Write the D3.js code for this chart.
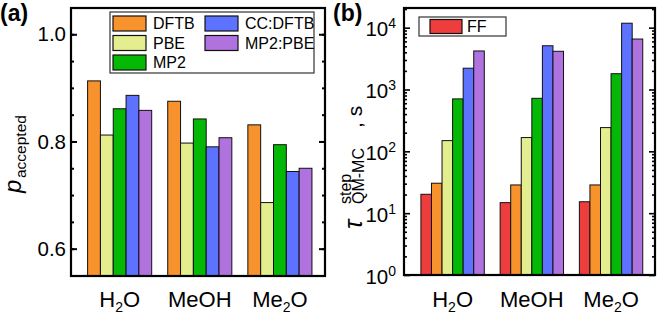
<!DOCTYPE html>
<html>
  <head>
    <style>
     body{ margin:0; background:#fff; }
     svg text{ font-family:"Liberation Sans", Arial, sans-serif; fill:#000; }
    </style>
    <script src="https://d3js.org/d3.v7.min.js"></script>
  </head>
  <body>
    <script>
    // data
    const molecules = ["H2O", "MeOH", "Me2O"];
    const methodsA = ["DFTB", "PBE", "MP2", "CC:DFTB", "MP2:PBE"];
    const methodsB = ["FF", "DFTB", "PBE", "MP2", "CC:DFTB", "MP2:PBE"];

    // p_accepted per molecule, in methodsA order
    const pAccH2O  = [0.913, 0.812, 0.861, 0.886, 0.858];
    const pAccMeOH = [0.875, 0.797, 0.842, 0.790, 0.807];
    const pAccMe2O = [0.831, 0.686, 0.794, 0.744, 0.750];

    // tau step (s) per molecule, in methodsB order
    const tauH2O  = [20.2, 30.5, 149, 705, 2210, 4200];
    const tauMeOH = [14.8, 28.6, 167, 720, 5100, 4150];
    const tauMe2O = [15.3, 28.6, 242, 1800, 11800, 6550];

    const pTicks = [0.6, 0.8, 1.0];
    const tauTicks = [1, 10, 100, 1000, 10000];

    const colors = {
      "FF": "#ee3d3d", "DFTB": "#f8922c", "PBE": "#e4ee8e",
      "MP2": "#05b805", "CC:DFTB": "#5d72ff", "MP2:PBE": "#b072de"
    };

    const W = 661, H = 319;
    const svg = d3.select("body").append("svg").attr("width", W).attr("height", H);

    function molLabel(sel, name) {
      // H2O, Me2O get a subscript 2
      const m = name.match(/^(.*)2(.*)$/);
      if (m) {
        sel.append("tspan").text(m[1]);
        sel.append("tspan").attr("font-size", 14).attr("dy", 5).text("2");
        sel.append("tspan").attr("dy", -5).text(m[2]);
      } else {
        sel.text(name);
      }
    }

    // ---------- panel (a) ----------
    const A = {l: 71, r: 325, t: 8, b: 276};
    const xa = d3.scaleBand().domain(molecules).range([A.l, A.r])
      .paddingInner(0.2).paddingOuter(0.185).align(0.56);
    const xaIn = d3.scaleBand().domain(methodsA).range([0, xa.bandwidth()]);
    const ya = d3.scaleLinear().domain([0.549, 1.049]).range([A.b, A.t]);
    const dataA = [pAccH2O, pAccMeOH, pAccMe2O];

    const ga = svg.append("g");
    molecules.forEach(function(mol, i) {
      ga.selectAll(".bar" + i)
        .data(dataA[i])
        .enter().append("rect")
        .attr("x", (d, j) => xa(mol) + xaIn(methodsA[j]))
        .attr("y", d => ya(d))
        .attr("width", xaIn.bandwidth())
        .attr("height", d => A.b - ya(d))
        .attr("fill", (d, j) => colors[methodsA[j]])
        .attr("stroke", "#111").attr("stroke-width", 1);
    });

    const minorA = d3.range(0.6, 1.04, 0.05);
    ga.append("g").attr("transform", "translate(" + A.l + ",0)")
      .call(d3.axisLeft(ya).tickValues(minorA).tickSize(-3).tickFormat(""))
      .call(g => g.select(".domain").remove());
    ga.append("g").attr("transform", "translate(" + A.r + ",0)")
      .call(d3.axisRight(ya).tickValues(minorA).tickSize(-3).tickFormat(""))
      .call(g => g.select(".domain").remove());
    ga.append("g").attr("transform", "translate(" + A.l + ",0)")
      .call(d3.axisLeft(ya).tickValues(pTicks).tickSize(-6).tickPadding(5).tickFormat(d3.format(".1f")))
      .call(g => g.select(".domain").remove())
      .call(g => g.selectAll("text").attr("font-size", 20.5).style("font-family", "Liberation Sans"));
    ga.append("g").attr("transform", "translate(" + A.r + ",0)")
      .call(d3.axisRight(ya).tickValues(pTicks).tickSize(-6).tickFormat(""))
      .call(g => g.select(".domain").remove());
    ga.selectAll(".tick line").attr("stroke-width", 2);
    ga.append("rect").attr("x", A.l).attr("y", A.t).attr("width", A.r - A.l).attr("height", A.b - A.t)
      .attr("fill", "none").attr("stroke", "#000").attr("stroke-width", 2.2);

    molecules.forEach(function(mol) {
      ga.append("text").attr("x", xa(mol) + xa.bandwidth() / 2).attr("y", 307)
        .attr("text-anchor", "middle").attr("font-size", 22).call(molLabel, mol);
    });

    // y label p_accepted
    const yla = ga.append("g").attr("transform", "translate(21,0) rotate(-90)");
    yla.append("text").attr("x", -193).attr("y", 0).attr("font-size", 24)
      .attr("font-style", "italic").text("p");
    yla.append("text").attr("x", -178).attr("y", 5).attr("font-size", 15.5).text("accepted");

    ga.append("text").attr("x", 0).attr("y", 21).attr("font-size", 23)
      .attr("font-weight", "bold").text("(a)");

    // legend (a)
    const la = ga.append("g");
    la.append("rect").attr("x", 110).attr("y", 12).attr("width", 204).attr("height", 61)
      .attr("fill", "#fff").attr("stroke", "#333").attr("stroke-width", 1.2);
    methodsA.forEach(function(m, i) {
      const col = i < 3 ? 0 : 1, row = i < 3 ? i : i - 3;
      const x0 = col === 0 ? 113 : 205, y0 = 16 + row * 19.5;
      la.append("rect").attr("x", x0).attr("y", y0).attr("width", 33).attr("height", 15)
        .attr("fill", colors[m]).attr("stroke", "#111").attr("stroke-width", 1.2);
      la.append("text").attr("x", x0 + 40).attr("y", y0 + 13).attr("font-size", 16).text(m);
    });

    // ---------- panel (b) ----------
    const B = {l: 404, r: 655, t: 8, b: 275};
    const xb = d3.scaleBand().domain(molecules).range([B.l, B.r])
      .paddingInner(0.2).paddingOuter(0.184).align(0.58);
    const xbIn = d3.scaleBand().domain(methodsB).range([0, xb.bandwidth()]);
    const yb = d3.scaleLog().domain([1, 2.08e4]).range([B.b, B.t]);
    const dataB = [tauH2O, tauMeOH, tauMe2O];

    const gb = svg.append("g");
    molecules.forEach(function(mol, i) {
      gb.selectAll(".bar" + i)
        .data(dataB[i])
        .enter().append("rect")
        .attr("x", (d, j) => xb(mol) + xbIn(methodsB[j]))
        .attr("y", d => yb(d))
        .attr("width", xbIn.bandwidth())
        .attr("height", d => B.b - yb(d))
        .attr("fill", (d, j) => colors[methodsB[j]])
        .attr("stroke", "#111").attr("stroke-width", 1);
    });

    const minorB = [];
    [1, 10, 100, 1000, 10000].forEach(function(dec) {
      for (let k = 2; k <= 9; k++) if (dec * k <= 2e4) minorB.push(dec * k);
    });
    gb.append("g").attr("transform", "translate(" + B.l + ",0)")
      .call(d3.axisLeft(yb).tickValues(minorB).tickSize(-3).tickFormat(""))
      .call(g => g.select(".domain").remove());
    gb.append("g").attr("transform", "translate(" + B.r + ",0)")
      .call(d3.axisRight(yb).tickValues(minorB).tickSize(-3).tickFormat(""))
      .call(g => g.select(".domain").remove());
    const majB = gb.append("g").attr("transform", "translate(" + B.l + ",0)")
      .call(d3.axisLeft(yb).tickValues(tauTicks).tickSize(-6).tickPadding(10).tickFormat(""))
      .call(g => g.select(".domain").remove());
    majB.selectAll(".tick text").each(function(d) {
      const t = d3.select(this).attr("font-size", 20.5).attr("x", -8).attr("dy", "0.4em");
      t.append("tspan").text("10");
      t.append("tspan").attr("font-size", 14).attr("dy", -8).text(Math.round(Math.log10(d)));
    });
    gb.append("g").attr("transform", "translate(" + B.r + ",0)")
      .call(d3.axisRight(yb).tickValues(tauTicks).tickSize(-6).tickFormat(""))
      .call(g => g.select(".domain").remove());
    gb.selectAll(".tick line").attr("stroke-width", 1.6);
    gb.append("rect").attr("x", B.l).attr("y", B.t).attr("width", B.r - B.l).attr("height", B.b - B.t)
      .attr("fill", "none").attr("stroke", "#000").attr("stroke-width", 2.2);

    molecules.forEach(function(mol) {
      gb.append("text").attr("x", xb(mol) + xb.bandwidth() / 2).attr("y", 307)
        .attr("text-anchor", "middle").attr("font-size", 22).call(molLabel, mol);
    });

    // y label tau
    const ylb = gb.append("g").attr("transform", "translate(362,0) rotate(-90)");
    ylb.append("text").attr("x", -229).attr("y", 0).attr("font-size", 25)
      .attr("font-style", "italic").text("τ");
    ylb.append("text").attr("x", -204).attr("y", -11).attr("font-size", 16).text("step");
    ylb.append("text").attr("x", -204).attr("y", 2).attr("font-size", 16).text("QM-MC");
    ylb.append("text").attr("x", -128).attr("y", 0).attr("font-size", 21).text(", s");

    gb.append("text").attr("x", 333).attr("y", 21).attr("font-size", 23)
      .attr("font-weight", "bold").text("(b)");

    // legend (b)
    const lb = gb.append("g");
    lb.append("rect").attr("x", 419).attr("y", 17).attr("width", 87).attr("height", 19)
      .attr("fill", "#fff").attr("stroke", "#333").attr("stroke-width", 1.2);
    lb.append("rect").attr("x", 430).attr("y", 19.5).attr("width", 32).attr("height", 14)
      .attr("fill", colors["FF"]).attr("stroke", "#111").attr("stroke-width", 1.2);
    lb.append("text").attr("x", 467).attr("y", 32).attr("font-size", 16).text("FF");
    </script>
  </body>
</html>
